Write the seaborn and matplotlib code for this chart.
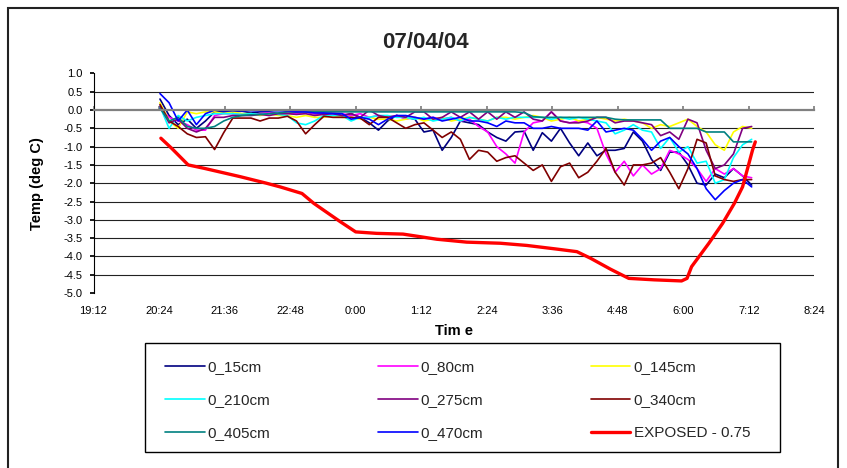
import pandas as pd
import matplotlib
matplotlib.use('Agg')
import matplotlib.pyplot as plt
import matplotlib.dates as mdates
import seaborn as sns
from matplotlib.patches import Rectangle

sns.set_theme(style='white')
plt.rcParams['font.family'] = ['Liberation Sans', 'DejaVu Sans']
plt.rcParams['axes.unicode_minus'] = False

# Leituras a cada 10 minutos, das 20:25 até 7:15
tempos = pd.date_range('2004-07-03 20:25', periods=66, freq='10min')

t_15cm = [0.3, -0.15, -0.4, -0.25, -0.5, -0.3, -0.05,
          -0.05, -0.05, -0.03, -0.08, -0.05, -0.05, -0.1,
          -0.05, -0.08, -0.05, -0.1, -0.1, -0.08, -0.15,
          -0.1, -0.2, -0.35, -0.55, -0.3, -0.15, -0.2,
          -0.25, -0.6, -0.55, -1.1, -0.75, -0.3, -0.35,
          -0.4, -0.6, -0.75, -0.85, -0.6, -0.58, -1.1,
          -0.62, -0.85, -0.5, -0.9, -1.25, -0.9, -1.25,
          -1.1, -1.1, -1.05, -0.6, -0.85, -1.35, -1.65,
          -1.15, -1.15, -1.5, -2.0, -2.05, -1.75, -1.85,
          -1.6, -1.8, -2.05]
t_80cm = [0.05, -0.2, -0.3, -0.4, -0.55, -0.55, -0.15,
          -0.1, -0.1, -0.1, -0.12, -0.1, -0.08, -0.1,
          -0.08, -0.1, -0.05, -0.1, -0.12, -0.08, -0.1,
          -0.15, -0.1, -0.2, -0.15, -0.2, -0.15, -0.25,
          -0.2, -0.25, -0.2, -0.25, -0.2, -0.3, -0.25,
          -0.45, -0.6, -1.0, -1.2, -1.45, -0.6, -0.35,
          -0.3, -0.05, -0.3, -0.35, -0.3, -0.35, -0.5,
          -1.2, -1.7, -1.4, -1.8, -1.5, -1.75, -1.6,
          -1.1, -1.2, -1.35, -1.6, -1.95, -1.6, -1.75,
          -1.6, -1.8, -1.85]
t_145cm = [0.2, -0.3, -0.5, -0.05, -0.1, -0.05, -0.05,
           -0.1, -0.05, -0.1, -0.1, -0.15, -0.1, -0.15,
           -0.15, -0.2, -0.15, -0.2, -0.2, -0.15, -0.2,
           -0.2, -0.25, -0.2, -0.25, -0.25, -0.3, -0.25,
           -0.2, -0.3, -0.25, -0.2, -0.3, -0.25, -0.2,
           -0.25, -0.3, -0.2, -0.2, -0.25, -0.2, -0.15,
           -0.2, -0.3, -0.25, -0.2, -0.3, -0.25, -0.2,
           -0.25, -0.3, -0.25, -0.3, -0.35, -0.5, -0.4,
           -0.45, -0.35, -0.25, -0.45, -0.6, -0.95, -1.1,
           -0.6, -0.45, -0.5]
t_210cm = [0.1, -0.5, -0.15, -0.3, -0.2, -0.15, -0.1,
           -0.1, -0.1, -0.12, -0.1, -0.12, -0.1, -0.12,
           -0.15, -0.35, -0.4, -0.3, -0.15, -0.15, -0.15,
           -0.3, -0.2, -0.2, -0.15, -0.15, -0.2, -0.2,
           -0.25, -0.2, -0.3, -0.25, -0.2, -0.3, -0.2,
           -0.25, -0.3, -0.2, -0.25, -0.2, -0.2, -0.2,
           -0.2, -0.25, -0.2, -0.25, -0.2, -0.25, -0.3,
           -0.35, -0.65, -0.55, -0.4, -0.55, -0.6, -1.05,
           -0.75, -1.15, -1.0, -1.45, -1.4, -2.0, -1.9,
           -1.3, -0.95, -0.8]
t_275cm = [0.1, -0.35, -0.25, -0.5, -0.6, -0.5, -0.2,
           -0.2, -0.15, -0.15, -0.15, -0.12, -0.15, -0.1,
           -0.1, -0.12, -0.1, -0.15, -0.12, -0.1, -0.15,
           -0.1, -0.2, 0.0, -0.15, -0.2, -0.15, -0.2,
           -0.05, -0.05, -0.25, -0.2, -0.05, -0.2, -0.05,
           -0.25, -0.05, -0.25, -0.05, -0.2, -0.05, -0.25,
           -0.3, -0.05, -0.3, -0.35, -0.35, -0.3, -0.2,
           -0.2, -0.35, -0.3, -0.3, -0.35, -0.4, -0.7,
           -0.6, -0.8, -0.25, -0.35, -1.1, -1.6, -1.5,
           -1.2, -0.5, -0.45]
t_340cm = [0.15, -0.3, -0.45, -0.65, -0.75, -0.73, -1.08,
           -0.62, -0.22, -0.22, -0.22, -0.3, -0.22, -0.22,
           -0.17, -0.3, -0.65, -0.4, -0.17, -0.2, -0.2,
           -0.2, -0.22, -0.4, -0.2, -0.2, -0.35, -0.5,
           -0.4, -0.35, -0.55, -0.75, -0.6, -0.8, -1.35,
           -1.1, -1.15, -1.4, -1.3, -1.25, -1.45, -1.65,
           -1.5, -1.95, -1.55, -1.45, -1.85, -1.7, -1.4,
           -1.05, -1.7, -2.05, -1.5, -1.5, -1.45, -1.3,
           -1.7, -2.15, -1.6, -0.8, -0.9, -1.8, -1.9,
           -1.95, -1.9, -1.9]
t_405cm = [0.05, -0.3, -0.2, -0.45, -0.5, -0.5, -0.45,
           -0.3, -0.2, -0.15, -0.13, -0.12, -0.1, -0.08,
           -0.05, -0.05, -0.05, -0.05, -0.05, -0.05, -0.05,
           -0.05, -0.05, -0.05, -0.05, -0.05, -0.05, -0.05,
           -0.05, -0.05, -0.05, -0.05, -0.05, -0.05, -0.05,
           -0.05, -0.05, -0.05, -0.05, -0.05, -0.07, -0.18,
           -0.2, -0.2, -0.2, -0.2, -0.2, -0.2, -0.2,
           -0.2, -0.25, -0.27, -0.27, -0.27, -0.27, -0.27,
           -0.5, -0.5, -0.5, -0.5, -0.6, -0.6, -0.6,
           -0.87, -0.87, -0.87]
t_470cm = [0.45, 0.2, -0.3, 0.0, -0.4, -0.1, 0.0,
           -0.02, -0.02, -0.02, -0.02, -0.02, -0.02, -0.02,
           -0.02, -0.05, -0.05, -0.08, -0.08, -0.1, -0.1,
           -0.25, -0.2, -0.25, -0.4, -0.25, -0.15, -0.15,
           -0.2, -0.25, -0.2, -0.3, -0.25, -0.2, -0.3,
           -0.3, -0.35, -0.45, -0.3, -0.35, -0.35, -0.5,
           -0.5, -0.45, -0.5, -0.5, -0.5, -0.55, -0.3,
           -0.6, -0.55, -0.5, -0.55, -0.8, -1.1, -0.85,
           -0.75, -1.0, -1.2, -1.6, -2.15, -2.45, -2.2,
           -2.0, -1.9, -2.1]

# Sensor exposto (minutos a partir de 0:00)
exposto_min = [-214, -202, -184, -167, -127, -98, -83, -59, -46, -17, 0, 23,
               52, 89, 122, 159, 188, 221, 243, 258, 280, 300, 328, 358,
               364, 369, 388, 403, 416, 425, 432, 436, 439]
exposto_val = [-0.77, -1.05, -1.5, -1.59, -1.82, -2.0, -2.1, -2.28, -2.55,
               -3.05, -3.33, -3.37, -3.39, -3.53, -3.61, -3.64, -3.7, -3.8,
               -3.87, -4.05, -4.35, -4.6, -4.64, -4.67, -4.6, -4.28, -3.64,
               -3.1, -2.55, -2.1, -1.46, -1.09, -0.87]
exposto_tempos = pd.Timestamp('2004-07-04') + pd.to_timedelta(exposto_min, unit='min')

series = [('0_15cm', t_15cm, '#000080'), ('0_80cm', t_80cm, '#FF00FF'),
          ('0_145cm', t_145cm, '#FFFF00'), ('0_210cm', t_210cm, '#00FFFF'),
          ('0_275cm', t_275cm, '#800080'), ('0_340cm', t_340cm, '#800000'),
          ('0_405cm', t_405cm, '#008080'), ('0_470cm', t_470cm, '#0000FF')]

y_ticks = [1.0, 0.5, 0.0, -0.5, -1.0, -1.5, -2.0, -2.5, -3.0, -3.5, -4.0, -4.5, -5.0]
x_ticks = pd.date_range('2004-07-03 19:12', '2004-07-04 08:24', freq='72min')

fig = plt.figure(figsize=(8.47, 4.68), dpi=100)
ax = fig.add_axes([0.1104, 0.3739, 0.8512, 0.4692])

for v in y_ticks[1:-1]:
    if v != 0:
        ax.axhline(v, color='#222222', lw=0.8, zorder=0)

for nome, valores, cor in series:
    sns.lineplot(x=tempos, y=valores, color=cor, lw=1.2, label=nome, ax=ax)
sns.lineplot(x=exposto_tempos, y=exposto_val, color='#FF0000', lw=2.4,
             label='EXPOSED - 0.75', ax=ax)

ax.set_xlim(x_ticks[0], x_ticks[-1])
ax.set_ylim(-5.0, 1.0)
ax.set_yticks(y_ticks)
ax.yaxis.set_major_formatter(plt.FormatStrFormatter('%.1f'))
ax.set_xticks(x_ticks)


def hora(x, pos):
    d = mdates.num2date(x)
    return f'{d.hour}:{d.minute:02d}'


ax.xaxis.set_major_formatter(plt.FuncFormatter(hora))

for s in ['right', 'bottom']:
    ax.spines[s].set_visible(False)
ax.spines['left'].set_color('black')
ax.spines['left'].set_linewidth(0.8)
ax.spines['top'].set_position(('data', 0))
ax.spines['top'].set_color('#808080')
ax.spines['top'].set_linewidth(1.6)

ax.tick_params(axis='x', top=True, bottom=False, labeltop=False, labelbottom=True,
               direction='out', length=3, color='#808080', labelsize=8, pad=6,
               labelcolor='black')
ax.tick_params(axis='y', left=True, direction='out', length=3, color='black',
               labelsize=8, pad=5, labelcolor='black')

ax.set_xlabel('Tim e', fontsize=10.5, fontweight='bold', color='black', va='top')
ax.xaxis.set_label_coords(0.5, -0.141)
ax.set_ylabel('Temp (deg C)', fontsize=10.5, fontweight='bold', color='black')
ax.yaxis.set_label_coords(-0.068, 0.5)

fig.text(425 / 847, 1 - 42 / 468, '07/04/04', ha='center', va='center',
         fontsize=16, fontweight='bold')

handles, labels = ax.get_legend_handles_labels()
if ax.get_legend() is not None:
    ax.get_legend().remove()
ordem = [0, 3, 6, 1, 4, 7, 2, 5, 8]
leg = fig.legend([handles[i] for i in ordem], [labels[i] for i in ordem], ncol=3,
                 mode='expand', loc='upper left',
                 bbox_to_anchor=(165 / 847, 1 - 360 / 468, 585 / 847, 0),
                 bbox_transform=fig.transFigure, frameon=False,
                 fontsize=11, handlelength=2.6, handletextpad=0.2,
                 borderpad=0, labelspacing=1.25, borderaxespad=0)

# moldura da legenda e borda do gráfico
fig.patches.append(Rectangle((145 / 847, 1 - 452 / 468), 635 / 847, 109 / 468,
                             transform=fig.transFigure, fill=False,
                             edgecolor='black', lw=1.0))
fig.patches.append(Rectangle((8 / 847, -0.1), 830 / 847, 1.1 - 8 / 468,
                             transform=fig.transFigure, fill=False,
                             edgecolor='#222222', lw=1.5))

fig.savefig('out.png', dpi=100, facecolor='white')
